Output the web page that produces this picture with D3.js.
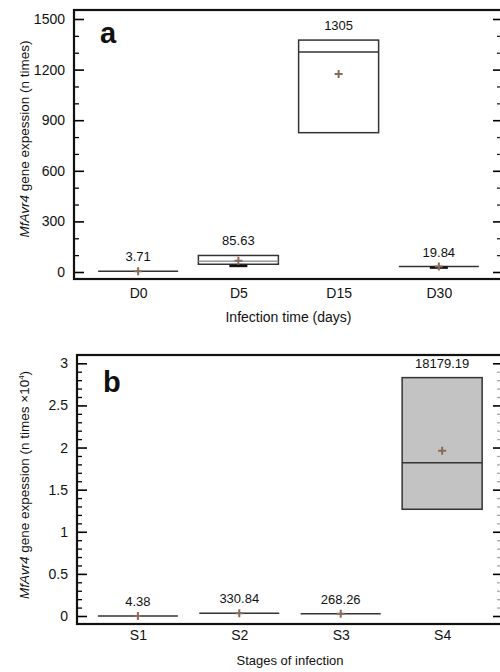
<!DOCTYPE html>
<html>
<head>
<meta charset="utf-8">
<script src="https://cdn.jsdelivr.net/npm/d3@7"></script>
<style>
  html, body { margin: 0; padding: 0; background: #fff; }
  svg { display: block; font-family: "Liberation Sans", Arial, sans-serif; }
</style>
</head>
<body>
<svg id="chart" width="500" height="672"></svg>
<script>
// panel a: infection time (n times)
const dayCats = ["D0", "D5", "D15", "D30"];
const dayLabels = ["3.71", "85.63", "1305", "19.84"];
const dayQ1 = [3.71, 46, 826, 32];
const dayQ3 = [3.71, 98, 1375, 32];
const dayMedian = [3.71, 63, 1305, 32];
const dayMean = [3.71, 67, 1174, 32];
const dayMin = [null, 42, null, 32];
const dayTicks = [0, 300, 600, 900, 1200, 1500];

// panel b: stages of infection (n times x10^4)
const stageCats = ["S1", "S2", "S3", "S4"];
const stageLabels = ["4.38", "330.84", "268.26", "18179.19"];
const stageQ1 = [0.000438, 0.0331, 0.0268, 1.267];
const stageQ3 = [0.000438, 0.0331, 0.0268, 2.83];
const stageMedian = [0.000438, 0.0331, 0.0268, 1.818];
const stageMean = [0.000438, 0.0331, 0.0268, 1.963];
const stageMin = [null, null, null, null];
const stageTicks = [0, 0.5, 1, 1.5, 2, 2.5, 3];

const svg = d3.select("#chart");
const meanColor = "#8a6a58";

/** draw one box panel */
const drawPanel = (o) => {
    const g = svg.append("g");
    const {left, right, top, bottom} = o;
    const x = d3.scalePoint().domain(o.cats).range([left, right]).padding(o.pad);
    const y = d3.scaleLinear().domain([0, o.ticks[o.ticks.length - 1]])
        .range([o.y0, o.yTop]);

    // minor ticks (left and right, inward)
    const minor = d3.range(0, o.ticks[o.ticks.length - 1] + 1e-9, o.minorStep)
        .filter(v => !o.ticks.some(t => Math.abs(t - v) < 1e-9));
    g.append("g").attr("transform", `translate(${left},0)`)
        .call(d3.axisLeft(y).tickValues(minor).tickSize(-5).tickFormat(""))
        .call(a => a.select(".domain").remove())
        .call(a => a.selectAll("line").attr("stroke-width", 1.3));
    g.append("g").attr("transform", `translate(${right},0)`)
        .call(d3.axisRight(y).tickValues(minor).tickSize(-6).tickFormat(""))
        .call(a => a.select(".domain").remove())
        .call(a => a.selectAll("line").attr("stroke", o.rightMinor).attr("stroke-width", 1.3));

    // major ticks
    g.append("g").attr("transform", `translate(${left},0)`)
        .call(d3.axisLeft(y).tickValues(o.ticks).tickSize(-10).tickPadding(9)
            .tickFormat(d => String(d)))
        .call(a => a.select(".domain").remove())
        .call(a => a.selectAll("line").attr("stroke-width", 1.6))
        .call(a => a.selectAll("text").attr("font-size", 14)
            .attr("font-family", "Liberation Sans, Arial, sans-serif").attr("fill", "#111"));
    g.append("g").attr("transform", `translate(${right},0)`)
        .call(d3.axisRight(y).tickValues(o.ticks).tickSize(-10).tickFormat(""))
        .call(a => a.select(".domain").remove())
        .call(a => a.selectAll("line").attr("stroke-width", 1.6));

    // category labels
    g.append("g").attr("transform", `translate(0,${bottom})`)
        .call(d3.axisBottom(x).tickSize(0).tickPadding(o.xPad))
        .call(a => a.select(".domain").remove())
        .call(a => a.selectAll("text").attr("font-size", 14)
            .attr("font-family", "Liberation Sans, Arial, sans-serif").attr("fill", "#111"));

    // frame
    g.append("rect").attr("x", left).attr("y", top)
        .attr("width", right - left).attr("height", bottom - top)
        .attr("fill", "none").attr("stroke", "#111").attr("stroke-width", 2.2);

    const bw = 80;
    o.cats.forEach((c, i) => {
        const cx = x(c);
        const yq1 = y(o.q1[i]), yq3 = y(o.q3[i]);
        if (yq1 - yq3 > 1) {
            g.append("rect").attr("x", cx - bw / 2).attr("y", yq3)
                .attr("width", bw).attr("height", yq1 - yq3)
                .attr("fill", o.boxFill).attr("stroke", "#333").attr("stroke-width", 1.5);
        }
        g.append("line").attr("x1", cx - bw / 2).attr("x2", cx + bw / 2)
            .attr("y1", y(o.median[i])).attr("y2", y(o.median[i]))
            .attr("stroke", yq1 - yq3 > 1 && yq1 - yq3 < 20 ? "#999" : "#333")
            .attr("stroke-width", 1.5);
        if (o.min[i] !== null) {
            g.append("line").attr("x1", cx - 9).attr("x2", cx + 9)
                .attr("y1", y(o.min[i]) + 1).attr("y2", y(o.min[i]) + 1)
                .attr("stroke", "#111").attr("stroke-width", 2.5);
        }
        // mean cross
        const my = y(o.mean[i]);
        g.append("path").attr("d", `M${cx - 4},${my}H${cx + 4}M${cx},${my - 4}V${my + 4}`)
            .attr("stroke", meanColor).attr("stroke-width", 2).attr("fill", "none");
        // value label above box
        g.append("text").attr("x", cx).attr("y", Math.min(yq3, yq1) - 10)
            .attr("text-anchor", "middle").attr("font-size", 13).attr("fill", "#111")
            .text(o.labels[i]);
    });

    // panel letter
    g.append("text").attr("x", left + 26).attr("y", o.letterY)
        .attr("font-size", 29).attr("font-weight", "bold").attr("fill", "#111")
        .text(o.letter);

    // x title
    g.append("text").attr("x", (left + right) / 2).attr("y", o.xTitleY)
        .attr("text-anchor", "middle").attr("font-size", o.xTitleSize).attr("fill", "#111")
        .text(o.xTitle);

    // y title
    const yt = g.append("text")
        .attr("transform", `translate(29,${o.yTitleY}) rotate(-90)`)
        .attr("text-anchor", "middle").attr("font-size", 13.5).attr("fill", "#111");
    yt.append("tspan").attr("font-style", "italic").text("MfAvr4");
    yt.append("tspan").text(" gene expession (n times" + (o.sup ? " \u00d710" : ")"));
    if (o.sup) {
        yt.append("tspan").attr("font-size", 8).attr("dy", -5).text("4");
        yt.append("tspan").attr("dy", 5).text(")");
    }
};

drawPanel({
    cats: dayCats, labels: dayLabels, q1: dayQ1, q3: dayQ3, median: dayMedian,
    mean: dayMean, min: dayMin, ticks: dayTicks, minorStep: 100,
    left: 74, right: 503, top: 10, bottom: 279, y0: 272, yTop: 19, pad: 0.64,
    xPad: 9, boxFill: "#fff", rightMinor: "#222", letter: "a", letterY: 43,
    xTitle: "Infection time (days)", xTitleY: 322, xTitleSize: 14, yTitleY: 139, sup: false
});

drawPanel({
    cats: stageCats, labels: stageLabels, q1: stageQ1, q3: stageQ3, median: stageMedian,
    mean: stageMean, min: stageMin, ticks: stageTicks, minorStep: 0.1,
    left: 77, right: 503, top: 355, bottom: 624, y0: 616, yTop: 363.3, pad: 0.6,
    xPad: 6, boxFill: "#c3c3c3", rightMinor: "#aaa", letter: "b", letterY: 392,
    xTitle: "Stages of infection", xTitleY: 665, xTitleSize: 13, yTitleY: 485, sup: true
});
</script>
</body>
</html>
